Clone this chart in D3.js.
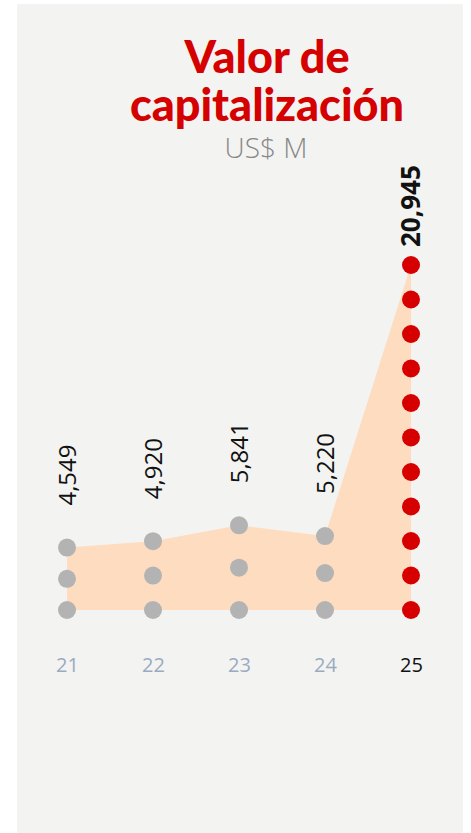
<!DOCTYPE html>
<html><head><meta charset="utf-8">
<script src="https://cdn.jsdelivr.net/npm/d3@7"></script>
<style>
html,body{margin:0;padding:0;background:#fff;}
svg{display:block;}
</style></head>
<body>
<script>
const years = ["21","22","23","24","25"];
const values = [4549, 4920, 5841, 5220, 20945];
const labels = ["4,549","4,920","5,841","5,220","20,945"];
const unitPerDot = 2000;
const highlight = "25";

const W = 471, H = 833;
const svg = d3.select("body").append("svg").attr("width", W).attr("height", H);

svg.append("rect").attr("x", 17).attr("y", 4).attr("width", 446).attr("height", H - 4).attr("fill", "#f3f3f2");

const title = svg.append("text").attr("text-anchor", "middle")
  .attr("font-family", "Lato, sans-serif").attr("font-weight", 900)
  .attr("font-size", 45).attr("fill", "#d50000");
title.append("tspan").attr("x", 267).attr("y", 73).text("Valor de");
title.append("tspan").attr("x", 267).attr("y", 121).text("capitalización");

svg.append("text").attr("x", 266).attr("y", 158).attr("text-anchor", "middle")
  .attr("font-family", "'Open Sans', sans-serif").attr("font-weight", 300)
  .attr("font-size", 28).attr("fill", "#888").text("US$ M");

const x = d3.scalePoint().domain(years).range([67, 411]);
const base = 610;
const y = d3.scaleLinear().domain([0, d3.max(values)]).range([626, 265]);

const data = years.map((yr, i) => ({yr, v: values[i], label: labels[i]}));

const area = d3.area().x(d => x(d.yr)).y0(base).y1(d => y(d.v));
svg.append("path").datum(data).attr("d", area).attr("fill", "#fddcbf");

data.forEach(d => {
  const n = Math.ceil(d.v / unitPerDot);
  const top = y(d.v);
  const dots = d3.range(n).map(k => base - (base - top) * k / (n - 1));
  svg.selectAll(null).data(dots).enter().append("circle")
    .attr("cx", x(d.yr)).attr("cy", c => c).attr("r", 9)
    .attr("fill", d.yr === highlight ? "#d60000" : "#b3b3b3");
  const hl = d.yr === highlight;
  const ly = top - (hl ? 18 : 42);
  svg.append("text")
    .attr("transform", `translate(${x(d.yr)},${ly}) rotate(-90)`)
    .attr("dy", "0.36em")
    .attr("font-family", "'Open Sans', sans-serif")
    .attr("font-weight", hl ? 700 : 400)
    .attr("font-size", hl ? 26 : 24)
    .attr("fill", "#111").text(d.label);
});

const xAxis = svg.append("g").attr("transform", `translate(0,672)`)
  .call(d3.axisBottom(x).tickSize(0).tickPadding(0));
xAxis.select(".domain").remove();
xAxis.selectAll("text")
  .attr("dy", 0)
  .attr("font-family", "'Open Sans', sans-serif").attr("font-size", 20)
  .attr("fill", d => d === highlight ? "#111" : "#9aabc0");
</script>
</body></html>
